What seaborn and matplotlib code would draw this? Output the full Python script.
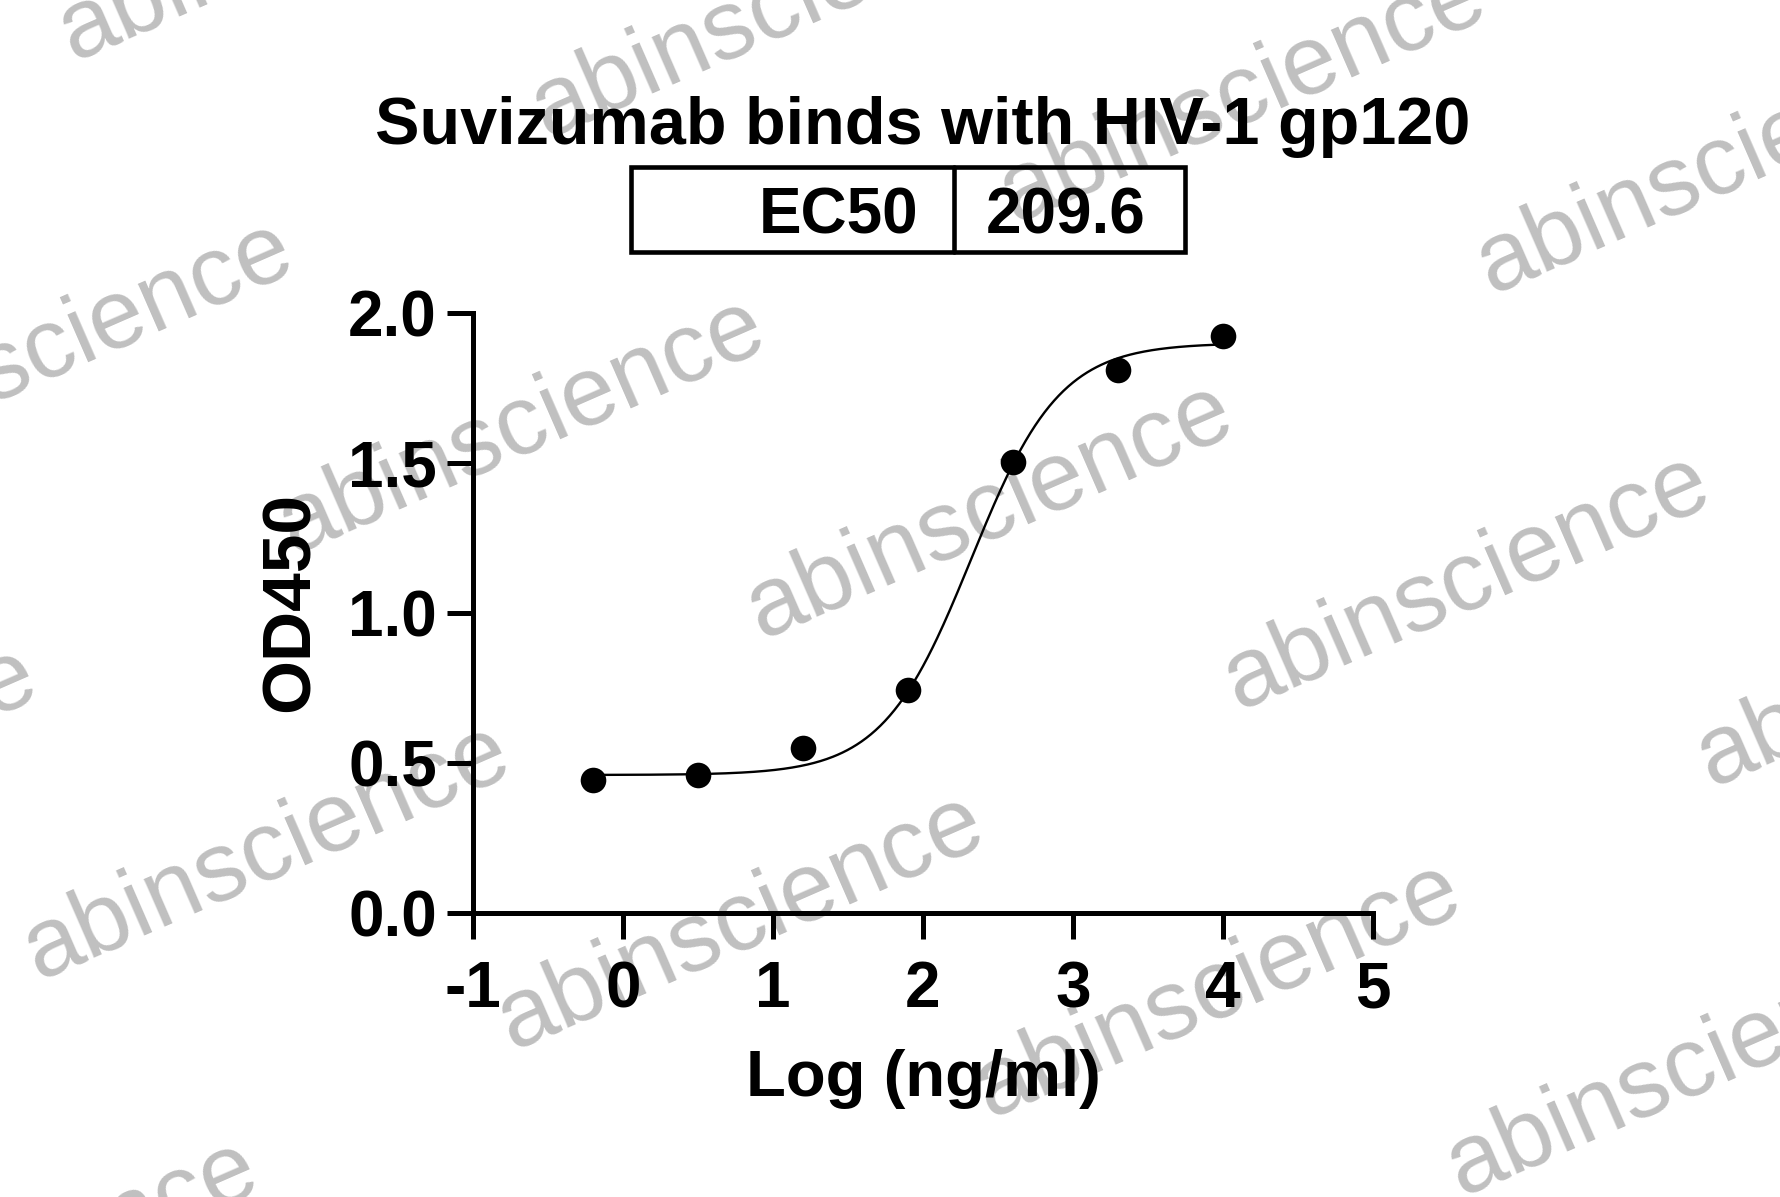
import numpy as np
import pandas as pd
import matplotlib
matplotlib.use("Agg")
import matplotlib.pyplot as plt
from matplotlib.patches import Rectangle
from matplotlib.lines import Line2D
import seaborn as sns

# ---------------- data ----------------
log_conc = [-0.2, 0.5, 1.2, 1.9, 2.6, 3.3, 4.0]
od450 = [0.445, 0.46, 0.55, 0.745, 1.505, 1.81, 1.925]

# 4PL fit parameters
fit_bottom = 0.46
fit_top = 1.90
fit_ec50 = 209.6
fit_hill = 1.47

title_text = "Suvizumab binds with HIV-1 gp120"
ec50_label = "EC50"
ec50_value = "209.6"
x_ticks = [-1, 0, 1, 2, 3, 4, 5]
y_ticks = [0.0, 0.5, 1.0, 1.5, 2.0]
x_label = "Log (ng/ml)"
y_label = "OD450"
watermark = "abinscience"

# ---------------- style ----------------
sns.set_theme(style="ticks")
plt.rcParams["font.family"] = ["Liberation Sans", "DejaVu Sans"]
plt.rcParams["font.weight"] = "bold"
plt.rcParams["text.color"] = "black"
plt.rcParams["axes.labelcolor"] = "black"
plt.rcParams["xtick.color"] = "black"
plt.rcParams["ytick.color"] = "black"

W, H = 1781, 1197
DPI = 100
fig = plt.figure(figsize=(W / DPI, H / DPI), dpi=DPI, facecolor="white")

ax_left, ax_right, ax_top, ax_bottom = 473, 1373, 313, 913
ax = fig.add_axes([ax_left / W, 1 - ax_bottom / H,
                   (ax_right - ax_left) / W, (ax_bottom - ax_top) / H])
ax.set_facecolor("none")

# fitted curve
xs = np.linspace(min(log_conc), max(log_conc), 400)
ys = fit_bottom + (fit_top - fit_bottom) / (1 + 10 ** ((np.log10(fit_ec50) - xs) * fit_hill))
curve = pd.DataFrame({"x": xs, "y": ys})
sns.lineplot(data=curve, x="x", y="y", ax=ax, color="black", linewidth=1.7, zorder=3)

pts = pd.DataFrame({"x": log_conc, "y": od450})
sns.scatterplot(data=pts, x="x", y="y", ax=ax, color="black", s=340,
                edgecolor="black", linewidth=0, zorder=4)

ax.set_xlim(-1, 5)
ax.set_ylim(0, 2.0)
ax.set_xticks(x_ticks)
ax.set_xticklabels([str(t) for t in x_ticks])
ax.set_yticks(y_ticks)
ax.set_yticklabels([f"{t:.1f}" for t in y_ticks])

for side in ["top", "right"]:
    ax.spines[side].set_visible(False)
for side in ["left", "bottom"]:
    ax.spines[side].set_linewidth(3.6)
    ax.spines[side].set_color("black")
    ax.spines[side].set_capstyle("projecting")

ax.tick_params(axis="both", which="major", length=19, width=3.6, color="black",
               labelsize=46, labelcolor="black", direction="out")
ax.tick_params(axis="y", pad=7)
ax.tick_params(axis="x", pad=15)
for lab in ax.get_xticklabels() + ax.get_yticklabels():
    lab.set_fontweight("bold")

ax.set_xlabel(x_label, fontsize=47, fontweight="bold", color="black")
ax.set_ylabel(y_label, fontsize=50, fontweight="bold", color="black")
# label centres (in pixels) -> axes coords
ax.xaxis.set_label_coords((923 - ax_left) / (ax_right - ax_left),
                          -(1079 - ax_bottom) / (ax_bottom - ax_top))
ax.xaxis.label.set_va("center")
ax.yaxis.set_label_coords(-(ax_left - 291) / (ax_right - ax_left),
                          (ax_bottom - 602) / (ax_bottom - ax_top))
ax.yaxis.label.set_va("center")

# title
fig.text(923 / W, 1 - 144 / H, title_text, ha="center", va="baseline",
         fontsize=48, fontweight="bold", color="black")

# EC50 box
bx0, bx1, by0, by1, bdiv = 631.5, 1184.7, 167, 252, 954
fig.add_artist(Rectangle((bx0 / W, 1 - by1 / H), (bx1 - bx0) / W, (by1 - by0) / H,
                         transform=fig.transFigure, fill=False,
                         edgecolor="black", linewidth=3.3))
fig.add_artist(Line2D([bdiv / W, bdiv / W], [1 - by0 / H, 1 - by1 / H],
                      transform=fig.transFigure, color="black", linewidth=3.3))
fig.text(918 / W, 1 - 209.5 / H, ec50_label, ha="right", va="center_baseline",
         fontsize=46, fontweight="bold", color="black")
fig.text(1066 / W, 1 - 209.5 / H, ec50_value, ha="center", va="center_baseline",
         fontsize=46, fontweight="bold", color="black")

# watermarks
wm_centers = [(50, 349), (522, 426), (990, 511), (1467, 582), (1940, 659),
              (-206, 775), (267, 852), (741, 922), (1218, 990), (1690, 1068),
              (302, -67), (775, 10), (1243, 95), (1720, 166), (15, 1268)]
for cx, cy in wm_centers:
    fig.text(cx / W, 1 - cy / H, watermark, ha="center", va="center",
             rotation=23.6, rotation_mode="anchor", fontsize=71,
             fontweight="normal", color="black", alpha=0.25, zorder=10)

fig.savefig("out.png", dpi=DPI, facecolor="white")
